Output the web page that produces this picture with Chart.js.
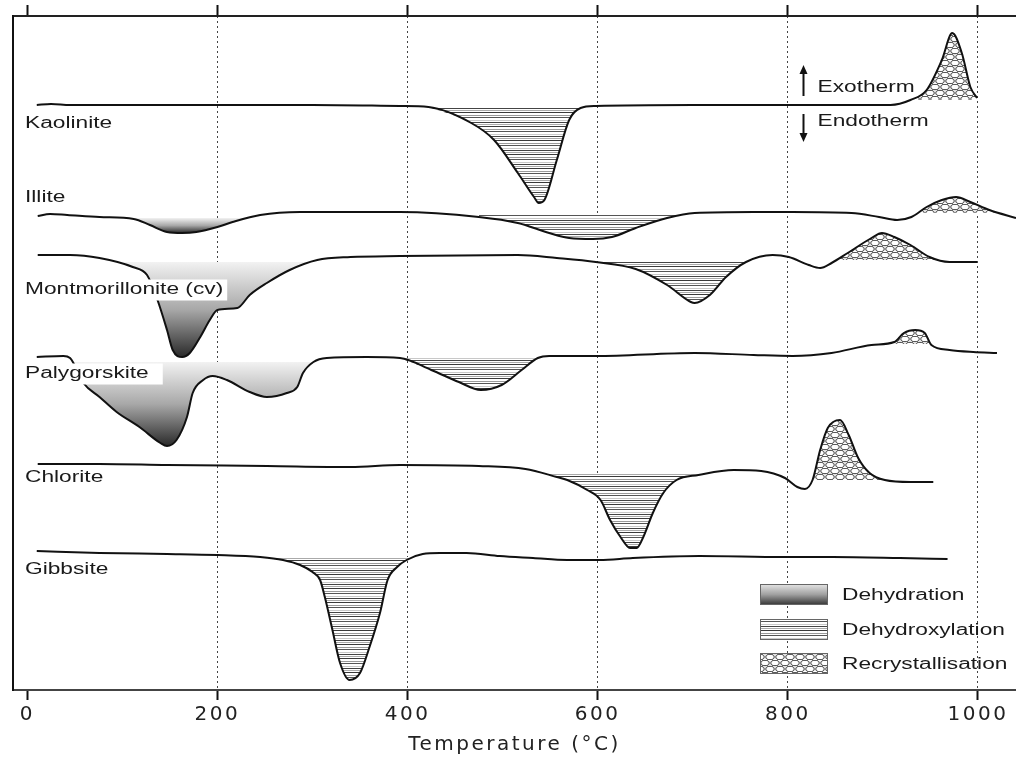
<!DOCTYPE html>
<html>
<head>
<meta charset="utf-8">
<script src="https://cdn.jsdelivr.net/npm/chart.js@4.4.0/dist/chart.umd.min.js"></script>
<style>
html,body{margin:0;padding:0;background:#fff;}
canvas{display:block;}
</style>
</head>
<body>
<canvas id="c" width="1016" height="757"></canvas>
<script>
// ---------- DATA ----------
const TEMPERATURE_TICKS = [0, 200, 400, 600, 800, 1000];
const MINERALS = ['Kaolinite', 'Illite', 'Montmorillonite (cv)', 'Palygorskite', 'Chlorite', 'Gibbsite'];

// DTA curves (temperature °C, signal in arbitrary offset units)
const kaoliniteTemp   = [10,25,45,100,200,300,392,422,467,491,516,533,538,544,557,570,582,598,700,800,908,929,946,962,973,983,992,999];
const kaoliniteSignal = [585,586,585,585,585,585,584,583,567,550,517,493,487,490,530,570,582,584,585,585,585,590,600,630,657,637,603,592];

const illiteTemp   = [11,24,42,76,112,129,147,163,178,200,216,245,287,357,392,475,516,549,570,595,615,640,673,702,764,805,867,896,915,930,946,962,977,992,1012,1040];
const illiteSignal = [474,476,475,473,471,465,458,457,458,463,468,475,478,478,478,473,467,457,452,451,453,462,472,477,478,478,477,473,470,473,483,490,493,488,480,472];

const montmorilloniteTemp   = [11,45,76,111,126,137,147,153,163,171,182,192,200,221,234,252,276,305,340,392,516,557,598,640,673,698,702,718,735,756,784,801,822,834,846,863,888,899,912,929,949,970,999];
const montmorilloniteSignal = [435,435,432,423,415,390,360,340,333,337,353,370,380,382,395,407,420,430,433,434,435,432,428,421,405,388,387,395,413,428,435,433,425,422,427,437,452,457,453,445,433,428,428];

const palygorskiteTemp   = [10,38,45,59,76,94,118,140,147,157,168,174,185,195,210,234,252,273,284,290,301,315,357,392,425,454,477,499,520,537,549,598,702,764,805,846,888,912,922,934,944,951,970,995,1020];
const palygorskiteSignal = [333,334,332,307,293,278,263,247,244,250,273,297,310,314,310,298,293,297,303,317,328,332,333,332,320,308,300,305,320,332,334,334,337,335,334,337,345,348,357,360,357,345,340,338,337];

const chloriteTemp   = [11,76,147,252,340,392,475,524,557,568,589,603,613,624,634,641,648,658,669,683,706,743,772,797,810,818,826,834,842,855,864,874,886,902,929,953];
const chloriteSignal = [226,226,225,224,223,225,224,221,213,210,200,190,170,153,142,142,153,177,197,210,215,220,219,212,203,201,210,240,262,270,255,232,217,210,208,208];

const gibbsiteTemp   = [10,76,147,200,245,269,287,300,308,313,321,329,339,350,360,371,379,389,399,416,434,462,497,532,568,602,637,707,795,847,918,968];
const gibbsiteSignal = [139,137,136,135,133,130,125,118,110,93,60,27,10,17,43,77,110,123,130,136,137,137,134,132,130,130,132,134,133,133,132,131];

// Shaded thermal-event regions
const regionMineral = [0, 0, 1, 1, 1, 2, 2, 2, 3, 3, 3, 4, 4, 5];
const regionProcess = ['Dehydroxylation','Recrystallisation','Dehydration','Dehydroxylation','Recrystallisation',
                       'Dehydration','Dehydroxylation','Recrystallisation','Dehydration','Dehydroxylation','Recrystallisation',
                       'Dehydroxylation','Recrystallisation','Dehydroxylation'];
const regionFrom = [420, 925, 100, 470, 910, 70, 550, 840, 40, 390, 905, 520, 815, 240];
const regionTo   = [600, 1000, 250, 770, 1040, 310, 790, 975, 320, 550, 955, 745, 905, 420];
const regionBase = [582, 590, 472, 476, 477, 428, 428, 430, 328, 332, 346, 217, 210, 133];

const LEGEND_PROCESSES = ['Dehydration', 'Dehydroxylation', 'Recrystallisation'];

// ---------- STYLE ----------
const CURVE_TEMPS = [kaoliniteTemp, illiteTemp, montmorilloniteTemp, palygorskiteTemp, chloriteTemp, gibbsiteTemp];
const CURVE_SIGNALS = [kaoliniteSignal, illiteSignal, montmorilloniteSignal, palygorskiteSignal, chloriteSignal, gibbsiteSignal];
const LABEL_OFFSETS = [19, -18, 35, 17, 14, 19];
const LABEL_EXTRA = [0, 0, 2, 12, 0, 0];
const SX = 1.42;
const TEXT_FONT = '"Liberation Sans", Arial, sans-serif';

const canvas = document.getElementById('c');
const mainCtx = canvas.getContext('2d');

function makeLinesPattern() {
  const c = document.createElement('canvas'); c.width = 6; c.height = 14;
  const g = c.getContext('2d');
  g.fillStyle = '#ffffff'; g.fillRect(0, 0, 6, 14);
  [[0,'#3a3a3a'],[3,'#9a9a9a'],[5,'#555555'],[8,'#c8c8c8'],[10,'#444444'],[12,'#aaaaaa']].forEach(([r, col]) => {
    g.fillStyle = col; g.fillRect(0, r, 6, 1);
  });
  return mainCtx.createPattern(c, 'repeat');
}
function makeCirclesPattern() {
  const c = document.createElement('canvas'); c.width = 10; c.height = 12;
  const g = c.getContext('2d');
  g.fillStyle = '#ffffff'; g.fillRect(0, 0, 10, 12);
  g.strokeStyle = '#3c3c3c'; g.lineWidth = 1;
  [[5, 3], [0, 9], [10, 9]].forEach(([x, y]) => {
    g.beginPath(); g.ellipse(x, y, 4.2, 2.7, 0, 0, Math.PI * 2); g.stroke();
  });
  return mainCtx.createPattern(c, 'repeat');
}
const LINES = makeLinesPattern();
const CIRCLES = makeCirclesPattern();
const CLEAR = 'rgba(0,0,0,0)';

function points(i) {
  return CURVE_TEMPS[i].map((t, j) => ({ x: t, y: CURVE_SIGNALS[i][j] }));
}

const lineDatasets = MINERALS.map((name, i) => ({
  label: name,
  data: points(i),
  borderColor: '#111111',
  borderWidth: 2,
  pointRadius: 0,
  fill: false,
  cubicInterpolationMode: 'monotone',
  order: 0
}));

const fillDatasets = regionMineral.map((m, k) => {
  const pts = points(m).filter(p => p.x >= regionFrom[k] && p.x <= regionTo[k]);
  const base = regionBase[k];
  const proc = regionProcess[k];
  const minV = Math.min(...pts.map(p => p.y));
  let bg;
  if (proc === 'Dehydration') {
    bg = (ctx) => {
      const ch = ctx.chart;
      if (!ch.chartArea) return '#999';
      const ys = ch.scales.y;
      const g = ch.ctx.createLinearGradient(0, ys.getPixelForValue(base), 0, ys.getPixelForValue(minV));
      g.addColorStop(0, '#f2f2f2');
      g.addColorStop(0.5, '#a8a8a8');
      g.addColorStop(1, '#2a2a2a');
      return g;
    };
  } else if (proc === 'Dehydroxylation') {
    bg = LINES;
  } else {
    bg = CIRCLES;
  }
  const exo = proc === 'Recrystallisation';
  return {
    label: MINERALS[m] + ' ' + proc,
    data: pts,
    borderWidth: 0,
    borderColor: CLEAR,
    pointRadius: 0,
    backgroundColor: bg,
    cubicInterpolationMode: 'monotone',
    fill: exo ? { target: { value: base }, below: CLEAR } : { target: { value: base }, above: CLEAR },
    order: 1
  };
});

function drawStretched(ctx, text, x, y, size, color) {
  ctx.save();
  ctx.font = size + 'px ' + TEXT_FONT;
  ctx.textBaseline = 'middle';
  ctx.textAlign = 'left';
  ctx.fillStyle = color;
  ctx.translate(x, y);
  ctx.scale(SX, 1);
  ctx.fillText(text, 0, 0);
  ctx.restore();
}

const decor = {
  id: 'decor',
  beforeDraw(chart) { chart.ctx.letterSpacing = '2.5px'; },
  afterDatasetsDraw(chart) {
    const { ctx, chartArea: a, scales } = chart;
    const x = scales.x, y = scales.y;
    ctx.save();
    ctx.letterSpacing = '0px';
    // mineral labels with white boxes
    MINERALS.forEach((name, i) => {
      const cy = y.getPixelForValue(CURVE_SIGNALS[i][0]) + LABEL_OFFSETS[i];
      const lx = a.left + 12;
      ctx.font = '16px ' + TEXT_FONT;
      const w = ctx.measureText(name).width * SX;
      ctx.fillStyle = '#ffffff';
      ctx.fillRect(lx - 2, cy - 10.5, w + 4 + LABEL_EXTRA[i], 21);
      drawStretched(ctx, name, lx, cy, 16, '#1a1a1a');
    });
    // Exotherm / Endotherm arrows
    const ax = Math.round(x.getPixelForValue(816)) + 0.5;
    const by = y.getPixelForValue(kaoliniteSignal[0]);
    ctx.strokeStyle = '#111'; ctx.fillStyle = '#111'; ctx.lineWidth = 2;
    ctx.beginPath(); ctx.moveTo(ax, by - 9); ctx.lineTo(ax, by - 33); ctx.stroke();
    ctx.beginPath(); ctx.moveTo(ax, by - 40); ctx.lineTo(ax - 4, by - 31); ctx.lineTo(ax + 4, by - 31); ctx.closePath(); ctx.fill();
    ctx.beginPath(); ctx.moveTo(ax, by + 9); ctx.lineTo(ax, by + 30); ctx.stroke();
    ctx.beginPath(); ctx.moveTo(ax, by + 37); ctx.lineTo(ax - 4, by + 28); ctx.lineTo(ax + 4, by + 28); ctx.closePath(); ctx.fill();
    drawStretched(ctx, 'Exotherm', ax + 14, by - 17, 16, '#1a1a1a');
    drawStretched(ctx, 'Endotherm', ax + 14, by + 17, 16, '#1a1a1a');
    // legend
    const lx = a.right - 256;
    const tops = [a.bottom - 106, a.bottom - 71, a.bottom - 37];
    const bw = 68, bh = 21;
    LEGEND_PROCESSES.forEach((p, i) => {
      const t = tops[i];
      let fs;
      if (p === 'Dehydration') {
        fs = ctx.createLinearGradient(0, t, 0, t + bh);
        fs.addColorStop(0, '#e6e6e6'); fs.addColorStop(0.5, '#a0a0a0'); fs.addColorStop(1, '#333333');
      } else if (p === 'Dehydroxylation') {
        fs = LINES;
      } else {
        fs = CIRCLES;
      }
      ctx.fillStyle = fs;
      ctx.fillRect(lx, t, bw, bh);
      ctx.strokeStyle = '#666'; ctx.lineWidth = 1;
      ctx.strokeRect(lx + 0.5, t + 0.5, bw - 1, bh - 1);
      drawStretched(ctx, p, lx + 82, t + bh / 2 + 1, 16, '#1a1a1a');
    });
    ctx.restore();
  },
  afterDraw(chart) { chart.ctx.letterSpacing = '0px'; }
};

new Chart(canvas, {
  type: 'line',
  data: { datasets: [...lineDatasets, ...fillDatasets] },
  options: {
    responsive: false,
    animation: false,
    events: [],
    layout: { padding: { top: 5, left: 13, right: 0, bottom: 0 } },
    plugins: { legend: { display: false }, tooltip: { enabled: false } },
    scales: {
      x: {
        type: 'linear', position: 'bottom', min: -15, max: 1040,
        afterBuildTicks: s => { s.ticks = TEMPERATURE_TICKS.map(v => ({ value: v })); },
        afterFit: s => { s.height = 67; },
        grid: {
          color: c => (c.tick && c.tick.value === 0) ? CLEAR : '#444444',
          lineWidth: 1, tickColor: '#111', tickWidth: 2, tickLength: 10, drawTicks: true
        },
        border: { display: true, color: '#444', width: 2, dash: [2, 3] },
        ticks: { color: '#222', font: { family: 'DejaVu Sans', size: 20 }, padding: 3, maxRotation: 0, autoSkip: false,
                 callback: v => String(v) },
        title: { display: true, text: 'Temperature (°C)', color: '#222', font: { family: 'DejaVu Sans', size: 20 }, padding: { top: 0, bottom: 0 } }
      },
      x2: {
        type: 'linear', position: 'top', min: -15, max: 1040,
        afterBuildTicks: s => { s.ticks = TEMPERATURE_TICKS.map(v => ({ value: v })); },
        afterFit: s => { s.height = 11; },
        grid: { drawOnChartArea: false, drawTicks: true, tickLength: 11, tickColor: '#111', tickWidth: 2, color: '#111' },
        border: { display: true, color: '#222', width: 2 },
        ticks: { display: false }
      },
      y: {
        type: 'linear', position: 'left', min: 0, max: 674,
        afterFit: s => { s.width = 0; },
        grid: { display: false },
        ticks: { display: false },
        border: { display: true, color: '#111', width: 2 }
      }
    }
  },
  plugins: [decor]
});
</script>
</body>
</html>
